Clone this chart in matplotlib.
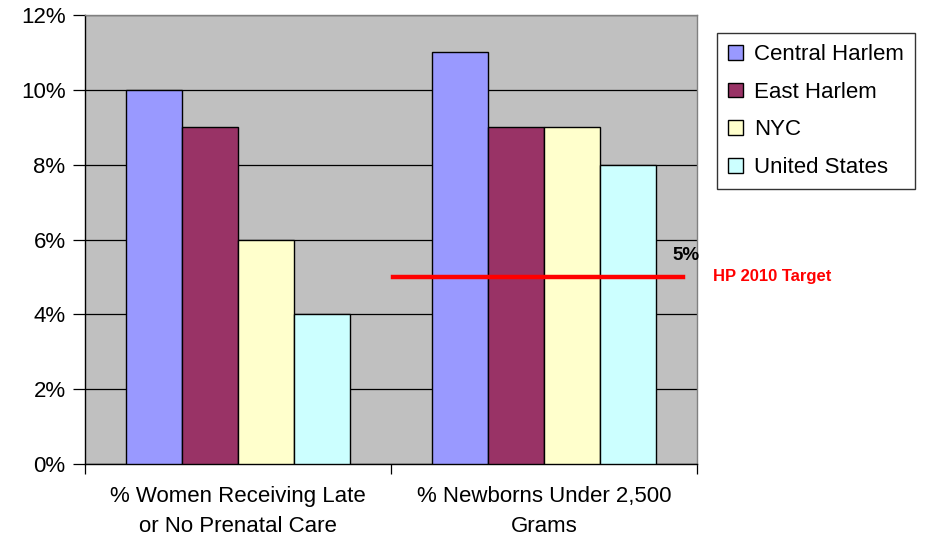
import matplotlib
matplotlib.use("Agg")
import matplotlib.pyplot as plt
import numpy as np
from matplotlib.ticker import PercentFormatter

plt.rcParams['font.family'] = ['Liberation Sans', 'DejaVu Sans']

categories = ["% Women Receiving Late\nor No Prenatal Care", "% Newborns Under 2,500\nGrams"]
series_names = ["Central Harlem", "East Harlem", "NYC", "United States"]
central_harlem = [10, 11]
east_harlem = [9, 9]
nyc = [6, 9]
united_states = [4, 8]
target_value = 5
target_label = "HP 2010 Target"
colors = ["#9999FF", "#993366", "#FFFFCC", "#CCFFFF"]

fig = plt.figure(figsize=(9.27, 5.44), dpi=100)
ax = fig.add_axes([85/927, 80/544, 612/927, 449/544])
ax.set_facecolor("#C0C0C0")

x = np.arange(len(categories))
w = 0.183
all_series = [central_harlem, east_harlem, nyc, united_states]
for i, (vals, name, c) in enumerate(zip(all_series, series_names, colors)):
    ax.bar(x + (i - 1.5) * w, vals, width=w, color=c, edgecolor="black",
           linewidth=1.0, label=name, zorder=3)

ax.set_xlim(-0.5, 1.5)
ax.set_ylim(0, 12)
ax.set_yticks(np.arange(0, 13, 2))
ax.yaxis.set_major_formatter(PercentFormatter(decimals=0))
ax.yaxis.grid(True, color="black", linewidth=0.9, zorder=1)
ax.set_axisbelow(True)

ax.set_xticks([-0.5, 0.5, 1.5])
ax.set_xticklabels([])
ax.set_xticks(x, minor=True)
ax.set_xticklabels(categories, minor=True, fontsize=16, linespacing=1.55)
ax.tick_params(axis="x", which="minor", length=0, pad=16)
ax.tick_params(axis="x", which="major", length=7, direction="out", width=0.9)
ax.tick_params(axis="y", length=9, direction="out", labelsize=16, pad=5, width=0.9)

for s in ["top", "right"]:
    ax.spines[s].set_color("#808080")
    ax.spines[s].set_linewidth(1.0)
for s in ["left", "bottom"]:
    ax.spines[s].set_color("black")
    ax.spines[s].set_linewidth(1.0)

ax.axhline(target_value, xmin=0.503, xmax=0.977, color="red", linewidth=3.2, zorder=4)
fig.text(672/927, 1 - 255/544, f"{target_value}%", fontsize=13.5, fontweight="bold",
         ha="left", va="center")
fig.text(713/927, 1 - 276/544, target_label, fontsize=12, fontweight="bold",
         color="red", ha="left", va="center")

leg = fig.legend(loc="upper left", bbox_to_anchor=(717/927, 1 - 33/544),
                 fontsize=16, frameon=True, fancybox=False, edgecolor="black",
                 handlelength=0.65, handleheight=0.65, handletextpad=0.5,
                 labelspacing=0.75, borderpad=0.5, borderaxespad=0)
leg.get_frame().set_linewidth(1.0)

fig.savefig("out.png", dpi=100)
